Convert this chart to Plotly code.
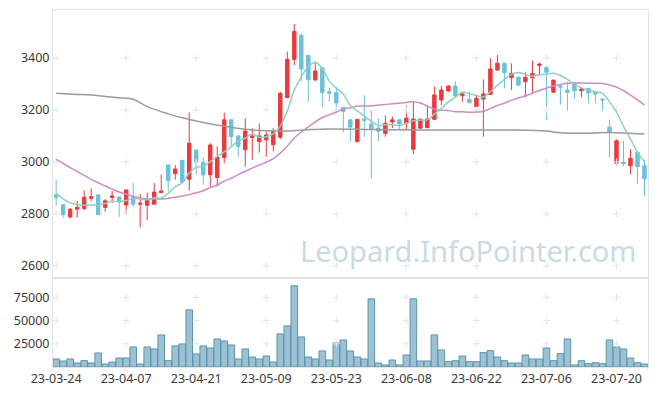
import pandas as pd
import plotly.graph_objects as go

# ---- data ----
holidays = ["2023-05-01", "2023-05-05", "2023-05-29", "2023-06-06"]
dates = pd.bdate_range("2023-03-24", periods=85, freq="C", holidays=holidays)
labels = [d.strftime("%y-%m-%d") for d in dates]

opens = [2873, 2835, 2788, 2818, 2820, 2860, 2873, 2825, 2863, 2865,
         2834, 2866, 2837, 2833, 2837, 2882, 2988, 2955, 3006, 2933,
         3046, 2999, 2950, 2940, 3017, 3162, 3100, 3047, 3094, 3078,
         3085, 3066, 3095, 3248, 3395, 3488, 3410, 3316, 3363, 3270,
         3267, 3210, 3162, 3078, 3165, 3146, 3130, 3110, 3154, 3162,
         3149, 3049, 3130, 3132, 3164, 3238, 3273, 3292, 3255, 3240,
         3213, 3242, 3260, 3354, 3380, 3324, 3326, 3309, 3324, 3371,
         3364, 3268, 3292, 3277, 3303, 3274, 3283, 3267, 3242, 3134,
         2995, 2999, 2985, 3037, 2985]
highs = [2931, 2838, 2822, 2850, 2890, 2898, 2875, 2857, 2888, 2866,
         2893, 2918, 2876, 2882, 2918, 2952, 2990, 2988, 3008, 3191,
         3047, 3020, 3072, 3060, 3190, 3163, 3102, 3168, 3130, 3148,
         3117, 3130, 3270, 3425, 3531, 3495, 3412, 3386, 3365, 3286,
         3283, 3212, 3163, 3165, 3256, 3198, 3168, 3178, 3175, 3163,
         3217, 3233, 3166, 3217, 3290, 3292, 3295, 3310, 3263, 3270,
         3258, 3318, 3399, 3412, 3382, 3380, 3328, 3345, 3390, 3383,
         3370, 3316, 3300, 3309, 3304, 3283, 3285, 3268, 3244, 3162,
         3087, 3081, 3049, 3038, 3008]
lows = [2830, 2785, 2783, 2785, 2815, 2848, 2795, 2808, 2842, 2788,
        2799, 2828, 2749, 2776, 2836, 2878, 2886, 2932, 2920, 2890,
        2950, 2912, 2905, 2905, 2995, 3060, 3020, 2982, 3008, 3036,
        3020, 3040, 3088, 3245, 3372, 3310, 3232, 3310, 3210, 3232,
        3200, 3114, 3078, 3077, 3097, 2935, 3080, 3097, 3130, 3126,
        3126, 3030, 3128, 3130, 3163, 3219, 3270, 3250, 3232, 3226,
        3212, 3097, 3258, 3350, 3283, 3277, 3290, 3249, 3262, 3335,
        3162, 3267, 3220, 3198, 3245, 3249, 3226, 3226, 3197, 3018,
        2985, 2983, 2953, 2918, 2869]
closes = [2863, 2797, 2818, 2825, 2864, 2866, 2797, 2850, 2869, 2848,
          2892, 2837, 2841, 2854, 2884, 2888, 2928, 2973, 2922, 3072,
          2998, 2950, 3065, 3018, 3162, 3098, 3060, 3119, 3100, 3100,
          3104, 3117, 3264, 3395, 3503, 3358, 3316, 3350, 3267, 3265,
          3227, 3194, 3134, 3164, 3160, 3126, 3118, 3149, 3162, 3146,
          3168, 3165, 3165, 3165, 3258, 3277, 3292, 3254, 3262, 3228,
          3245, 3262, 3358, 3380, 3344, 3341, 3296, 3326, 3341, 3377,
          3345, 3315, 3288, 3267, 3274, 3281, 3265, 3261, 3239, 3113,
          3081, 2993, 3014, 2982, 2935]
volumes = [8640, 6480, 8640, 4320, 6840, 4320, 15120, 3240, 5400, 9720,
           9720, 21600, 3240, 21600, 19440, 34560, 6840, 22680, 24840, 61560,
           14040, 22680, 20520, 30240, 28080, 23760, 8640, 19440, 10800, 8640,
           11880, 5400, 35640, 44280, 87480, 32400, 10800, 8640, 17280, 7560,
           25920, 29160, 17280, 10800, 8640, 73440, 4320, 2160, 7560, 2160,
           12960, 73440, 6480, 6480, 34560, 18360, 5760, 6840, 11880, 5760,
           5760, 15480, 17640, 10800, 6840, 4320, 4320, 12960, 8640, 8640,
           20520, 6840, 14400, 30240, 2160, 6840, 3600, 4680, 3600, 29160,
           21600, 19440, 9720, 4680, 3240]
ma5 = [2880, 2858, 2843, 2836, 2833, 2834, 2834, 2840, 2849, 2846,
       2851, 2859, 2857, 2854, 2862, 2861, 2879, 2905, 2919, 2957,
       2979, 2983, 3001, 3021, 3039, 3059, 3081, 3091, 3108, 3095,
       3097, 3108, 3137, 3196, 3277, 3327, 3367, 3384, 3359, 3311,
       3285, 3261, 3217, 3197, 3176, 3156, 3140, 3143, 3143, 3140,
       3149, 3158, 3161, 3162, 3184, 3206, 3231, 3249, 3269, 3263,
       3256, 3250, 3271, 3295, 3318, 3337, 3344, 3337, 3330, 3336,
       3337, 3341, 3333, 3318, 3298, 3285, 3275, 3270, 3264, 3232,
       3192, 3137, 3088, 3037, 3001]
ma20 = [3010, 2994, 2978, 2963, 2948, 2933, 2920, 2907, 2895, 2884,
        2876, 2868, 2861, 2858, 2857, 2857, 2860, 2864, 2869, 2874,
        2881, 2889, 2901, 2911, 2926, 2937, 2951, 2964, 2976, 2988,
        2999, 3013, 3034, 3061, 3092, 3115, 3135, 3154, 3171, 3181,
        3192, 3204, 3208, 3215, 3215, 3216, 3219, 3221, 3224, 3226,
        3229, 3232, 3227, 3215, 3203, 3199, 3198, 3193, 3193, 3191,
        3192, 3195, 3206, 3217, 3226, 3237, 3246, 3255, 3264, 3275,
        3284, 3292, 3298, 3303, 3304, 3304, 3303, 3303, 3302, 3296,
        3288, 3274, 3257, 3239, 3219]
ma_long_idx = [0, 3, 6, 9, 11, 13, 16, 18, 21, 24, 27, 30, 33, 36, 39,
               45, 52, 60, 66, 70, 72, 75, 79, 84]
ma_long = [3264, 3260, 3255, 3247, 3241, 3213, 3185, 3170, 3152, 3137,
           3126, 3120, 3119, 3124, 3127, 3125, 3123, 3123, 3123, 3119,
           3112, 3110, 3113, 3107]
price_ticks = [2600, 2800, 3000, 3200, 3400]
vol_ticks = [25000, 50000, 75000]
watermark = "Leopard.InfoPointer.com"

# ---- style ----
RED = "#ea3a3f"
BLUE = "#6cc0da"
FONT = "Noto Sans"
TXT = "#3a3a3a"
GRID = "#e4e4e4"
PLUS = "#e6e6e6"

tick_labels = labels[::10]

fig = go.Figure()

# grid "+" marks
gx, gy = [], []
for t in tick_labels:
    for p in price_ticks:
        gx.append(t)
        gy.append(p)
fig.add_trace(go.Scatter(x=gx, y=gy, mode="markers", xaxis="x", yaxis="y",
                         marker=dict(symbol="cross-thin", size=5,
                                     line=dict(color=PLUS, width=1)),
                         hoverinfo="skip", showlegend=False))
gx2, gy2 = [], []
for t in tick_labels:
    for v in vol_ticks:
        gx2.append(t)
        gy2.append(v)
fig.add_trace(go.Scatter(x=gx2, y=gy2, mode="markers", xaxis="x2", yaxis="y2",
                         marker=dict(symbol="cross-thin", size=5,
                                     line=dict(color=PLUS, width=1)),
                         hoverinfo="skip", showlegend=False))

fig.add_annotation(text=watermark, xref="paper", yref="paper", x=0.699, y=0.325,
                   xanchor="center", yanchor="middle", showarrow=False,
                   font=dict(family=FONT, size=29, color="#c9dbe6"))

fig.add_trace(go.Candlestick(
    x=labels, open=opens, high=highs, low=lows, close=closes,
    increasing=dict(line=dict(color=RED, width=1), fillcolor=RED),
    decreasing=dict(line=dict(color=BLUE, width=1), fillcolor=BLUE),
    whiskerwidth=0, xaxis="x", yaxis="y", showlegend=False, hoverinfo="skip"))

fig.add_trace(go.Scatter(x=[labels[i] for i in ma_long_idx], y=ma_long, mode="lines",
                         line=dict(color="#9a9a9a", width=1.5, shape="spline"),
                         xaxis="x", yaxis="y", showlegend=False, hoverinfo="skip"))
fig.add_trace(go.Scatter(x=labels, y=ma20, mode="lines",
                         line=dict(color="#cc8cc6", width=1.5, shape="spline"),
                         xaxis="x", yaxis="y", showlegend=False, hoverinfo="skip"))
fig.add_trace(go.Scatter(x=labels, y=ma5, mode="lines",
                         line=dict(color="#8fcfc3", width=1.5, shape="spline"),
                         xaxis="x", yaxis="y", showlegend=False, hoverinfo="skip"))

fig.add_trace(go.Bar(x=labels, y=volumes, xaxis="x2", yaxis="y2",
                     marker=dict(color="rgba(130,178,200,0.8)",
                                 line=dict(color="#5d95ae", width=1)),
                     showlegend=False, hoverinfo="skip"))

axis_common = dict(showline=True, mirror=True, linecolor=GRID, linewidth=1,
                   showgrid=False, zeroline=False, ticks="", automargin=False)
# the page body adds an 8px offset, so the figure is sized to fit the window
fig.update_layout(
    width=649, height=388,
    margin=dict(l=45, r=9, t=2, b=29),
    paper_bgcolor="white", plot_bgcolor="white",
    font=dict(family=FONT, size=12.5, color=TXT),
    bargap=0.06,
    xaxis=dict(domain=[0, 1], anchor="y", type="category", categoryorder="array",
               categoryarray=labels, range=[-0.45, 84.5], showticklabels=False,
               rangeslider=dict(visible=False), **axis_common),
    xaxis2=dict(domain=[0, 1], anchor="y2", type="category", categoryorder="array",
                categoryarray=labels, range=[-0.45, 84.5], matches="x",
                tickvals=tick_labels, ticktext=tick_labels, tickangle=0,
                **axis_common),
    yaxis=dict(domain=[0.253, 1], anchor="x", range=[2558, 3585],
               tickvals=price_ticks, tickformat="d", **axis_common),
    yaxis2=dict(domain=[0, 0.247], anchor="x2", range=[0, 95000],
                tickvals=vol_ticks, tickformat="d", **axis_common),
)

fig.write_html("out.html")
